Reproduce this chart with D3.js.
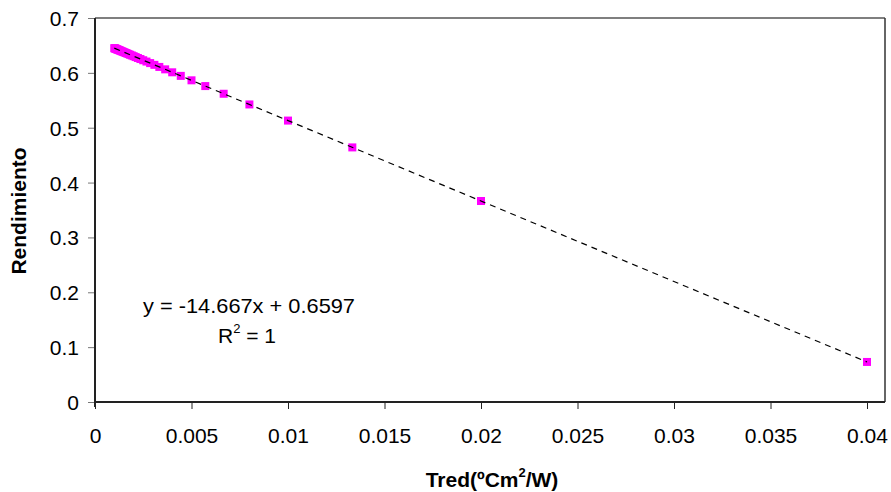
<!DOCTYPE html>
<html><head><meta charset="utf-8">
<script src="https://cdn.jsdelivr.net/npm/d3@7"></script>
<style>html,body{margin:0;padding:0;background:#fff;}svg{display:block;font-family:"Liberation Sans",Arial,sans-serif;}</style>
</head><body><svg id="c" width="891" height="492"></svg>
<script>
const xValues = [0.04,0.02,0.013333,0.01,0.008,0.006667,0.005714,0.005,0.004444,0.004,0.003636,0.003333,0.003077,0.002857,0.002667,0.0025,0.002353,0.002222,0.002105,0.002,0.001905,0.001818,0.001739,0.001667,0.0016,0.001538,0.001481,0.001429,0.001379,0.001333,0.00129,0.00125,0.001212,0.001176,0.001143,0.001111,0.001081,0.001053,0.001026,0.001];
const yValues = [0.0730,0.3664,0.4641,0.5130,0.5424,0.5619,0.5759,0.5864,0.5945,0.6010,0.6064,0.6108,0.6146,0.6178,0.6206,0.6230,0.6252,0.6271,0.6288,0.6304,0.6318,0.6330,0.6342,0.6353,0.6362,0.6371,0.6380,0.6387,0.6395,0.6401,0.6408,0.6414,0.6419,0.6424,0.6429,0.6434,0.6438,0.6443,0.6447,0.6450];
const xTicks = [0,0.005,0.01,0.015,0.02,0.025,0.03,0.035,0.04];
const xTickLabels = ["0","0.005","0.01","0.015","0.02","0.025","0.03","0.035","0.04"];
const yTicks = [0,0.1,0.2,0.3,0.4,0.5,0.6,0.7];
const yTickLabels = ["0","0.1","0.2","0.3","0.4","0.5","0.6","0.7"];
const slope = -14.667, intercept = 0.6597;
const trendX = [0.001, 0.04];

const FS = 21;
const svg = d3.select("#c");
const L = 95, R = 867, T = 18, B = 402, frameR = 885;
const x = d3.scaleLinear().domain([0,0.04]).range([L,R]);
const y = d3.scaleLinear().domain([0,0.7]).range([B,T]);

// frame
svg.append("line").attr("x1",L).attr("x2",frameR).attr("y1",T).attr("y2",T).attr("stroke","#555").attr("stroke-width",1.5);
svg.append("line").attr("x1",frameR).attr("x2",frameR).attr("y1",T).attr("y2",B).attr("stroke","#333").attr("stroke-width",1.5);

// axes
const xAxis = svg.append("g").attr("transform",`translate(0,${B})`)
  .call(d3.axisBottom(x).tickValues(xTicks).tickFormat((d,i)=>xTickLabels[i]).tickSize(7).tickSizeOuter(0));
xAxis.select(".domain").remove();
xAxis.append("line").attr("x1",L).attr("x2",frameR).attr("stroke","#222").attr("stroke-width",2);
xAxis.selectAll(".tick line").attr("stroke","#222");
xAxis.selectAll("text").attr("font-size",FS).attr("fill","#000").attr("y",41).attr("dy",0).attr("font-family","Liberation Sans, Arial, sans-serif");

const yAxis = svg.append("g").attr("transform",`translate(${L},0)`)
  .call(d3.axisLeft(y).tickValues(yTicks).tickFormat((d,i)=>yTickLabels[i]).tickSize(7).tickSizeOuter(0));
yAxis.select(".domain").remove();
yAxis.append("line").attr("y1",T).attr("y2",B+5).attr("stroke","#222").attr("stroke-width",2);
yAxis.selectAll(".tick line").attr("stroke","#777");
yAxis.selectAll("text").attr("font-size",FS).attr("fill","#000").attr("x",-16).attr("dy","0.36em").attr("font-family","Liberation Sans, Arial, sans-serif");

// points
const s = 8;
svg.append("g").selectAll("rect").data(xValues.map((d,i)=>[d,yValues[i]])).join("rect")
  .attr("x",d=>x(d[0])-s/2).attr("y",d=>y(d[1])-s/2).attr("width",s).attr("height",s)
  .attr("fill","#ff00ff");

// trendline (drawn above markers)
svg.append("line")
  .attr("x1",x(trendX[0])).attr("y1",y(slope*trendX[0]+intercept))
  .attr("x2",x(trendX[1])).attr("y2",y(slope*trendX[1]+intercept))
  .attr("stroke","#000").attr("stroke-width",1.2).attr("stroke-dasharray","6,5");

// equation
svg.append("text").attr("x",143).attr("y",313).attr("font-size",FS).attr("textLength",212).attr("lengthAdjust","spacingAndGlyphs").text("y = -14.667x + 0.6597");
const r2 = svg.append("text").attr("x",218).attr("y",343).attr("font-size",FS);
r2.append("tspan").text("R");
r2.append("tspan").attr("font-size",13).attr("dy",-10).text("2");
r2.append("tspan").attr("dy",10).text(" = 1");

// axis titles
const xt = svg.append("text").attr("x",492).attr("y",487).attr("text-anchor","middle").attr("font-size",FS).attr("font-weight","bold");
xt.append("tspan").text("Tred(ºCm");
xt.append("tspan").attr("font-size",13).attr("dy",-10).text("2");
xt.append("tspan").attr("dy",10).text("/W)");

svg.append("text").attr("transform","translate(26,211) rotate(-90)").attr("text-anchor","middle")
  .attr("font-size",FS).attr("font-weight","bold").text("Rendimiento");
</script></body></html>
